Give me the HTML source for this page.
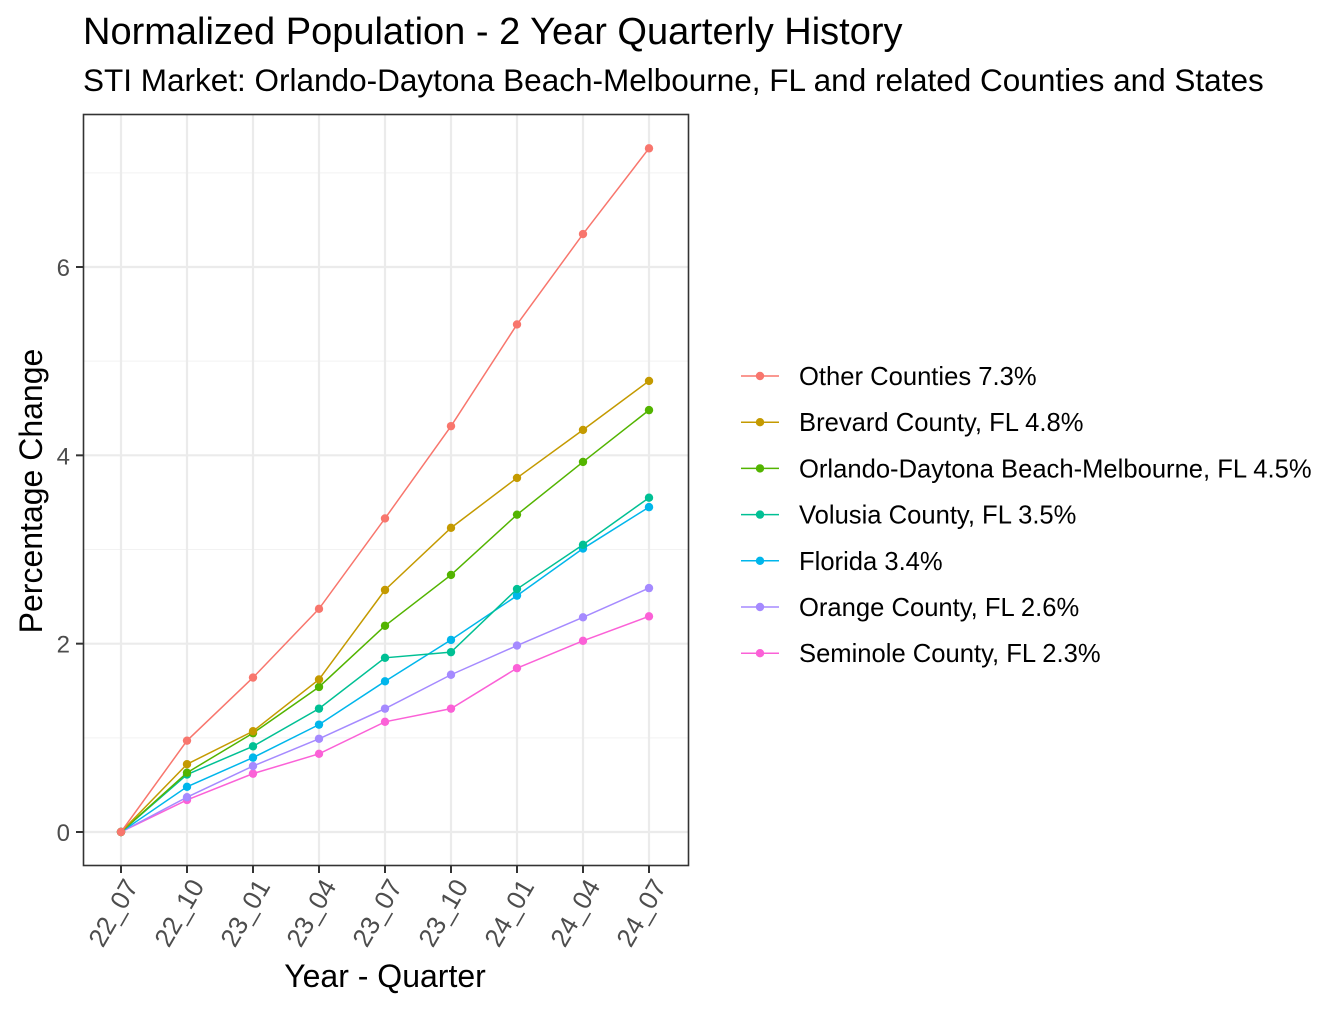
<!DOCTYPE html>
<html><head><meta charset="utf-8"><style>
body{margin:0;background:#fff;}
svg{font-family:"Liberation Sans",Arial,sans-serif;}
</style></head><body>
<svg id="chart" width="1344" height="1008" viewBox="0 0 1344 1008">
<text x="83" y="44" font-size="38" fill="#000">Normalized Population - 2 Year Quarterly History</text>
<text x="83" y="91" font-size="31.5" fill="#000">STI Market: Orlando-Daytona Beach-Melbourne, FL and related Counties and States</text>
<g id="grid"></g>
<g id="series"></g>
<rect x="83.5" y="114.5" width="605" height="751" fill="none" stroke="#333" stroke-width="1.6"/>
<g id="axes"></g>
<text x="385" y="987" font-size="32" text-anchor="middle" fill="#000">Year - Quarter</text>
<text transform="translate(42,491) rotate(-90)" font-size="32" text-anchor="middle" fill="#000">Percentage Change</text>
<g id="legend"></g>
</svg>
<script>
const categories = ["22_07","22_10","23_01","23_04","23_07","23_10","24_01","24_04","24_07"];
const seriesNames = ["Other Counties 7.3%","Brevard County, FL 4.8%","Orlando-Daytona Beach-Melbourne, FL 4.5%","Volusia County, FL 3.5%","Florida 3.4%","Orange County, FL 2.6%","Seminole County, FL 2.3%"];
const seriesColors = ["#F8766D","#C49A00","#53B400","#00C094","#00B6EB","#A58AFF","#FB61D7"];
const otherVals = [0,0.97,1.64,2.37,3.33,4.31,5.39,6.35,7.26];
const brevardVals = [0,0.72,1.07,1.62,2.57,3.23,3.76,4.27,4.79];
const orlandoVals = [0,0.63,1.05,1.54,2.19,2.73,3.37,3.93,4.48];
const volusiaVals = [0,0.61,0.91,1.31,1.85,1.91,2.58,3.05,3.55];
const floridaVals = [0,0.48,0.79,1.14,1.60,2.04,2.51,3.01,3.45];
const orangeVals = [0,0.37,0.70,0.99,1.31,1.67,1.98,2.28,2.59];
const seminoleVals = [0,0.34,0.62,0.83,1.17,1.31,1.74,2.03,2.29];
const yTicks = [0,2,4,6];
const yMinor = [1,3,5,7];

const allSeries = [otherVals,brevardVals,orlandoVals,volusiaVals,floridaVals,orangeVals,seminoleVals];
const NS="http://www.w3.org/2000/svg";
const xScale = i => 121 + i*(649-121)/(categories.length-1);
const yScale = v => 832 - v*(832-267)/6;
function mk(tag, attrs, parent){const e=document.createElementNS(NS,tag);for(const k in attrs)e.setAttribute(k,attrs[k]);parent.appendChild(e);return e;}
const grid=document.getElementById('grid'), ser=document.getElementById('series'), axes=document.getElementById('axes'), leg=document.getElementById('legend');
yMinor.forEach(v=>{const l=mk('line',{x1:84,x2:688,y1:yScale(v),y2:yScale(v),stroke:'#f2f2f2','stroke-width':1},grid);

});
yTicks.forEach(v=>{const l=mk('line',{x1:84,x2:688,y1:yScale(v),y2:yScale(v),stroke:'#ebebeb','stroke-width':2.2},grid);


const t=mk('line',{x1:76,x2:83,y1:yScale(v),y2:yScale(v),stroke:'#333','stroke-width':2},axes);


const tx=mk('text',{x:70,y:yScale(v)+9,'font-size':24,'text-anchor':'end',fill:'#4d4d4d'},axes);tx.textContent=v;

});
categories.forEach((c,i)=>{const x=xScale(i);
const l=mk('line',{x1:x,x2:x,y1:115,y2:865,stroke:'#ebebeb','stroke-width':2.2},grid);


const t=mk('line',{x1:x,x2:x,y1:866,y2:873,stroke:'#333','stroke-width':2},axes);


const tx=mk('text',{transform:`translate(${x+18},886) rotate(-60)`,'font-size':26,'text-anchor':'end',fill:'#4d4d4d'},axes);tx.textContent=c;

});
for(let s=allSeries.length-1;s>=0;s--){const vals=allSeries[s], col=seriesColors[s];
const g=mk('g',{},ser);


const pl=mk('polyline',{points:vals.map((v,i)=>xScale(i)+','+yScale(v)).join(' '),fill:'none',stroke:col,'stroke-width':1.5},g);


vals.forEach((v,i)=>{const p=mk('circle',{cx:xScale(i),cy:yScale(v),r:4.2,fill:col},g);

});}
seriesNames.forEach((n,i)=>{const y=376+i*46.2;
const g=mk('g',{},leg);


mk('line',{x1:741,x2:779,y1:y,y2:y,stroke:seriesColors[i],'stroke-width':1.5},g);
mk('circle',{cx:760,cy:y,r:4.2,fill:seriesColors[i]},g);
const t=mk('text',{x:799,y:y+9,'font-size':25.6,fill:'#000'},g);t.textContent=n;

});
</script>
</body></html>
